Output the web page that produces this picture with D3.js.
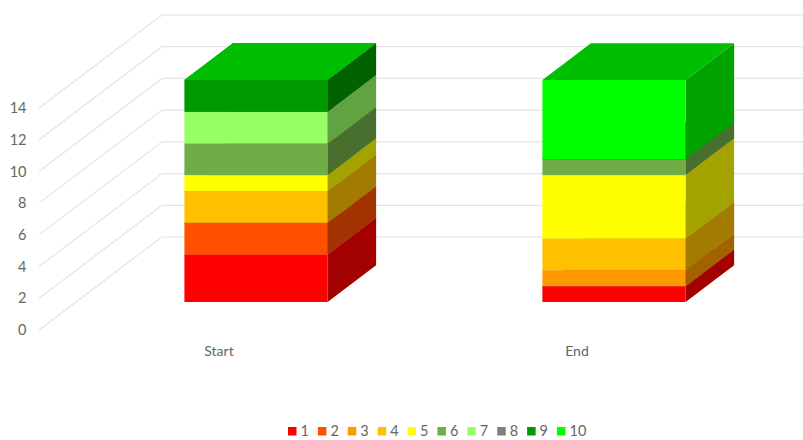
<!DOCTYPE html>
<html>
<head>
<meta charset="utf-8">
<script src="https://cdn.jsdelivr.net/npm/d3@7"></script>
<style>
  html, body { margin: 0; padding: 0; background: #fff; }
  svg { display: block; }
  text { font-family: Lato, "Open Sans", sans-serif; fill: #666666; }
</style>
</head>
<body>
<svg id="chart" width="803" height="440"></svg>
<script>
// Stacked 3-D column chart: ten layers across two columns.
const categories = ["Start", "End"];
const seriesNames = ["1", "2", "3", "4", "5", "6", "7", "8", "9", "10"];
const startValues = [3, 2, 0, 2, 1, 2, 2, 0, 2, 0];
const endValues = [1, 0, 1, 2, 4, 1, 0, 0, 0, 5];
const seriesColors = ["#ff0000", "#ff5000", "#ff9900", "#ffc000", "#ffff00",
                      "#70ad47", "#99ff66", "#808080", "#009900", "#00ff00"];
const yTicks = [0, 2, 4, 6, 8, 10, 12, 14];

const svg = d3.select("#chart");

const rows = categories.map((c, i) => {
  const row = { category: c };
  const vals = i === 0 ? startValues : endValues;
  seriesNames.forEach((s, k) => { row[s] = vals[k]; });
  return row;
});
const stacked = d3.stack().keys(seriesNames)(rows);

// Front plane of the columns
const x = d3.scaleBand().domain(categories).range([77, 793]).paddingInner(0.6).paddingOuter(0.3);
const y = d3.scaleLinear().domain([0, 14]).range([302, 80]);
const depth = { dx: 48.5, dy: -36.7 };

// Front edge of the floor and the back wall of the chart box
const yFront = d3.scaleLinear().domain([0, 14]).range([330, 108]);
const yBack = d3.scaleLinear().domain([0, 14]).range([237, 15]);
const wall = { left: 39, back: 162, right: 803 };

// Gridlines: diagonal on the side wall, horizontal on the back wall
const grid = svg.append("g").attr("fill", "none").attr("stroke", "#e4e4e4").attr("stroke-width", 1.2);
grid.selectAll("path").data(yTicks).join("path")
  .attr("d", v => `M${wall.left},${yFront(v)}L${wall.back},${yBack(v)}L${wall.right},${yBack(v)}`);

// Value axis sits on the front edge of the side wall
const axis = svg.append("g").attr("transform", "translate(32.5,0)")
  .call(d3.axisLeft(yFront).tickValues(yTicks).tickSize(0).tickPadding(6));
axis.select(".domain").remove();
axis.selectAll("text").attr("font-size", 14.5).attr("font-family", null).style("fill", "#666666");

const shade = (c, k) => {
  const r = d3.rgb(c);
  return d3.rgb(r.r * k, r.g * k, r.b * k).formatHex();
};

// Layers are painted bottom to top so each top face covers the one below
const bars = svg.append("g");
stacked.forEach((layer, k) => {
  const color = seriesColors[k];
  layer.forEach(d => {
    const cat = d.data.category;
    const x0 = x(cat), x1 = x0 + x.bandwidth();
    const y0 = y(d[0]), y1 = y(d[1]);
    const g = bars.append("g");
    g.append("path").attr("fill", shade(color, 0.64))
      .attr("d", `M${x1},${y0}L${x1 + depth.dx},${y0 + depth.dy}L${x1 + depth.dx},${y1 + depth.dy}L${x1},${y1}Z`);
    g.append("path").attr("fill", shade(color, 0.75))
      .attr("d", `M${x0},${y1}L${x0 + depth.dx},${y1 + depth.dy}L${x1 + depth.dx},${y1 + depth.dy}L${x1},${y1}Z`);
    g.append("rect").attr("fill", color)
      .attr("x", x0).attr("y", y1).attr("width", x.bandwidth()).attr("height", y0 - y1);
  });
});

// Category labels run along the front edge of the floor
const xLabel = d3.scalePoint().domain(categories).range([219, 577]);
svg.append("g").selectAll("text").data(categories).join("text")
  .attr("x", d => xLabel(d)).attr("y", 355.5)
  .attr("text-anchor", "middle").attr("font-size", 14)
  .text(d => d);

// Legend
const legendX = d3.scalePoint().domain(seriesNames).range([288, 557]);
const legend = svg.append("g").selectAll("g").data(seriesNames).join("g")
  .attr("transform", d => `translate(${legendX(d)},427)`);
legend.append("rect").attr("width", 8.5).attr("height", 8.5)
  .attr("fill", (d, i) => seriesColors[i]);
legend.append("text").attr("x", 12.5).attr("y", 9).attr("font-size", 14.5).text(d => d);
</script>
</body>
</html>
